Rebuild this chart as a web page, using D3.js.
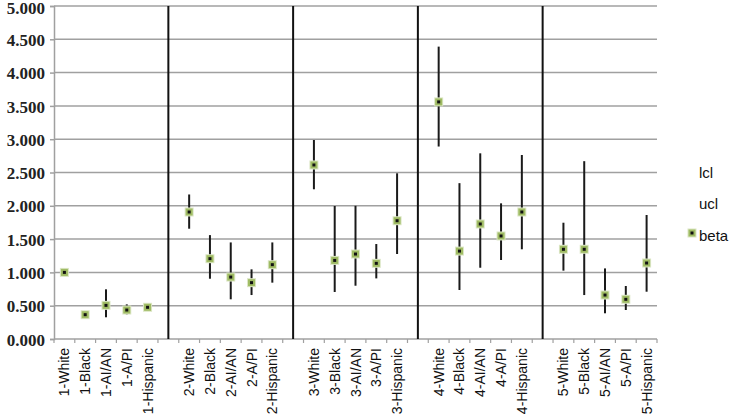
<!DOCTYPE html>
<html><head><meta charset="utf-8">
<script src="https://cdn.jsdelivr.net/npm/d3@7"></script>
<style>body{margin:0;background:#fff}svg{display:block}</style>
</head><body>
<script>
const groups = ["1","2","3","4","5"];
const races = ["White","Black","AI/AN","A/PI","Hispanic"];
const beta = [
  [1.000,0.365,0.505,0.435,0.476],
  [1.907,1.206,0.930,0.846,1.116],
  [2.613,1.180,1.276,1.136,1.776],
  [3.560,1.320,1.727,1.547,1.907],
  [1.347,1.347,0.660,0.596,1.141]
];
const lcl = [
  [1.000,0.340,0.326,0.370,0.430],
  [1.656,0.905,0.596,0.660,0.846],
  [2.248,0.706,0.800,0.910,1.276],
  [2.890,0.736,1.070,1.186,1.347],
  [1.026,0.660,0.386,0.435,0.710]
];
const ucl = [
  [1.000,0.395,0.746,0.520,0.520],
  [2.170,1.560,1.450,1.046,1.450],
  [2.988,1.997,2.000,1.426,2.488],
  [4.390,2.340,2.788,2.037,2.763],
  [1.746,2.670,1.060,0.796,1.862]
];
const yTicks = [0,0.5,1,1.5,2,2.5,3,3.5,4,4.5,5];
const legendLabels = ["lcl","ucl","beta"];

const W=731,H=419;
const svg=d3.select("body").append("svg").attr("width",W).attr("height",H);

const domain=[]; const points=[]; const gaps=[];
groups.forEach((g,gi)=>{
  races.forEach((r,ri)=>{
    const key=g+"-"+r; domain.push(key);
    points.push({key, b:beta[gi][ri], l:lcl[gi][ri], u:ucl[gi][ri]});
  });
  if(gi<groups.length-1){const k="gap"+gi; domain.push(k); gaps.push(k);}
});

const x=d3.scaleBand().domain(domain).range([54,657]).padding(0);
const y=d3.scaleLinear().domain([0,5]).range([339,6]);

svg.append("g").selectAll("line").data(yTicks.filter(t=>t>0)).join("line")
  .attr("x1",54).attr("x2",657).attr("y1",d=>y(d)).attr("y2",d=>y(d))
  .attr("stroke","#a0a0a0").attr("stroke-width",1.5);

const ya=svg.append("g").attr("transform","translate(54,0)")
  .call(d3.axisLeft(y).tickValues(yTicks).tickFormat(d3.format(".3f")).tickSize(4).tickPadding(5));
ya.attr("font-family",null).attr("font-size",null);
ya.select(".domain").attr("stroke","#a0a0a0").attr("stroke-width",1.5);
ya.selectAll(".tick line").attr("stroke","#a0a0a0").attr("stroke-width",1.5);
ya.selectAll("text")
  .style("font-family","'Liberation Serif','DejaVu Serif',serif").style("font-weight","bold")
  .style("font-size","17px").attr("fill","#222").attr("dy",d=>d===5?"0.42em":"0.36em");

const xa=svg.append("g").attr("transform","translate(0,339)");
xa.append("line").attr("x1",54).attr("x2",657).attr("stroke","#a0a0a0").attr("stroke-width",1.5);
const bounds=domain.map(d=>x(d)).concat([x(domain[domain.length-1])+x.bandwidth()]);
xa.selectAll("line.tk").data(bounds).join("line").attr("class","tk")
  .attr("x1",d=>d).attr("x2",d=>d).attr("y1",0).attr("y2",4)
  .attr("stroke","#a0a0a0").attr("stroke-width",1.2);
xa.selectAll("text").data(points).join("text")
  .attr("transform",d=>`translate(${x(d.key)+x.bandwidth()/2+5},9) rotate(-90)`)
  .attr("text-anchor","end").attr("font-family","'Liberation Sans',Arial,sans-serif")
  .attr("font-size",14).attr("fill","#111").text(d=>d.key);

svg.append("g").selectAll("line").data(gaps).join("line")
  .attr("x1",d=>x(d)+x.bandwidth()/2).attr("x2",d=>x(d)+x.bandwidth()/2)
  .attr("y1",y(5)).attr("y2",y(0)).attr("stroke","#111").attr("stroke-width",2);

svg.append("g").selectAll("line").data(points).join("line")
  .attr("x1",d=>x(d.key)+x.bandwidth()/2).attr("x2",d=>x(d.key)+x.bandwidth()/2)
  .attr("y1",d=>y(d.u)).attr("y2",d=>y(d.l)).attr("stroke","#1a1a1a").attr("stroke-width",2);

function marker(g,cx,cy){
  g.append("rect").attr("x",cx-4.5).attr("y",cy-4.5).attr("width",9).attr("height",9).attr("fill","#dbe6c4");
  g.append("rect").attr("x",cx-3.5).attr("y",cy-3.5).attr("width",7).attr("height",7).attr("fill","#9fbb63");
  g.append("rect").attr("x",cx-1.5).attr("y",cy-1.5).attr("width",3).attr("height",3).attr("fill","#111");
}
const mg=svg.append("g");
points.forEach(d=>marker(mg,x(d.key)+x.bandwidth()/2,y(d.b)));

const lg=svg.append("g");
const ly=[173,204,236];
legendLabels.forEach((t,i)=>{
  lg.append("text").attr("x",699).attr("y",ly[i]).attr("dy","0.35em")
    .attr("font-family","'Liberation Sans',Arial,sans-serif").attr("font-size",15).attr("fill","#111").text(t);
});
marker(lg,692,233);
</script>
</body></html>
